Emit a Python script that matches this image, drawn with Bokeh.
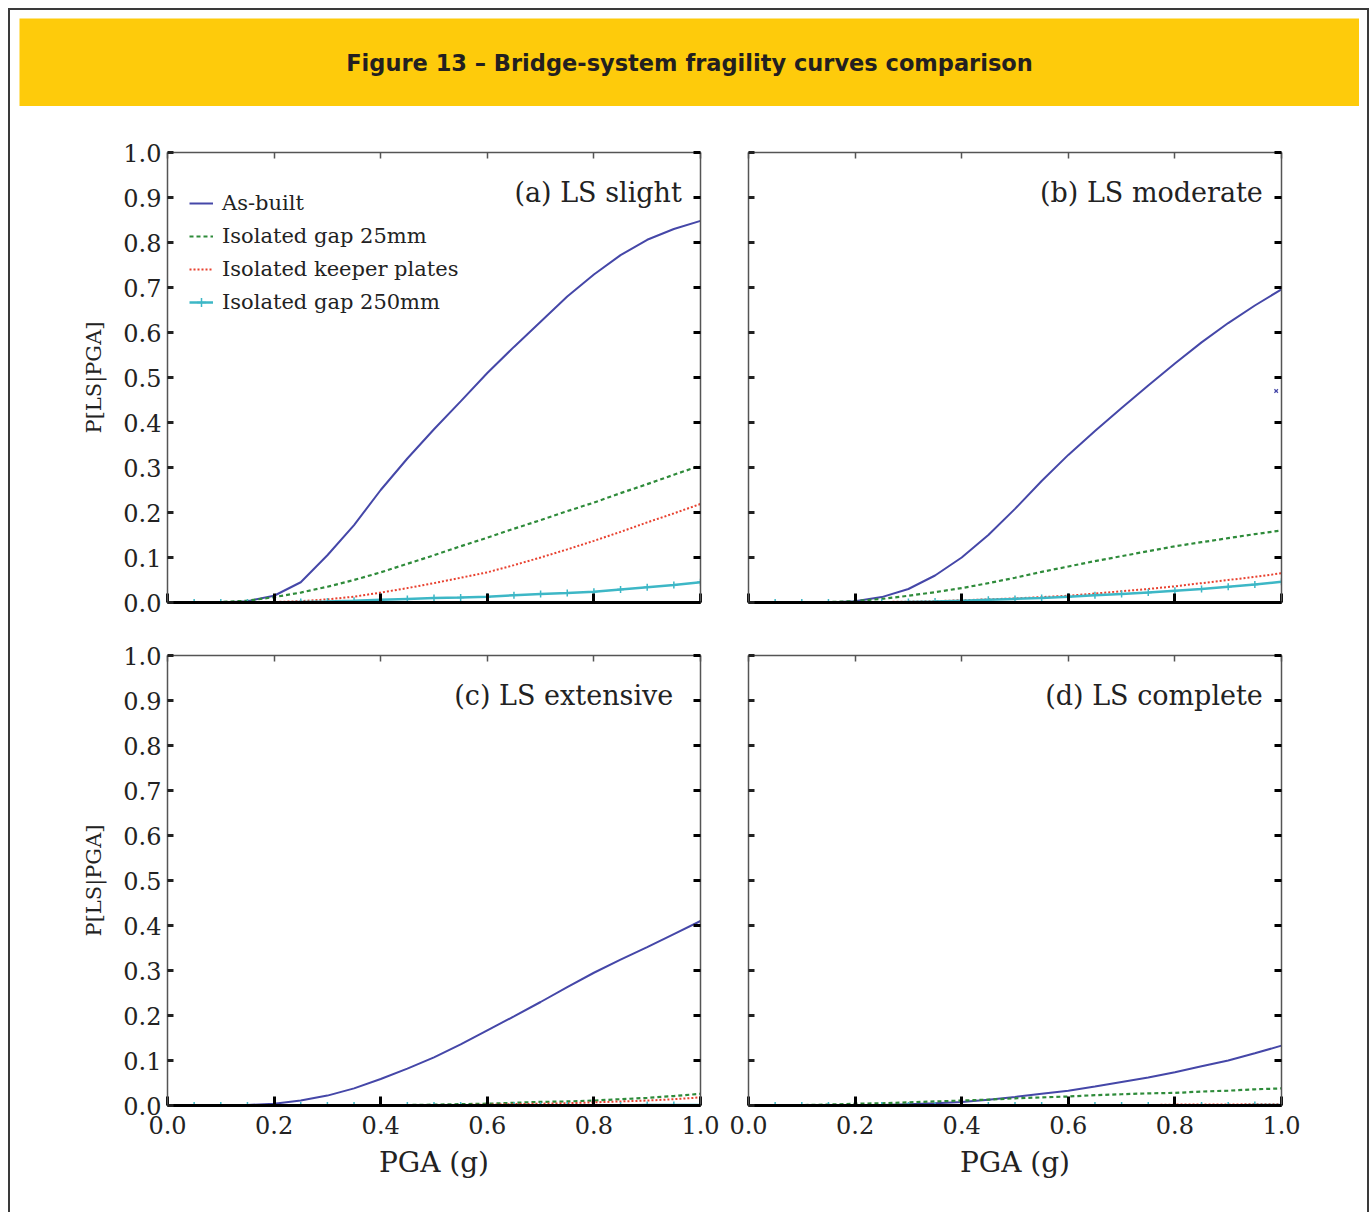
from bokeh.plotting import figure
from bokeh.models import (Range1d, LinearAxis, FixedTicker, PrintfTickFormatter,
                          CustomJSTickFormatter, Label, Legend, LegendItem, Grid)
from bokeh.layouts import column, row
from bokeh.embed import file_html
from bokeh.resources import INLINE

# ---------------- data ----------------
pga = [0.00, 0.05, 0.10, 0.15, 0.20, 0.25, 0.30, 0.35, 0.40, 0.45, 0.50,
       0.55, 0.60, 0.65, 0.70, 0.75, 0.80, 0.85, 0.90, 0.95, 1.00]

x_ticks = [0.0, 0.2, 0.4, 0.6, 0.8, 1.0]
y_ticks = [0.0, 0.1, 0.2, 0.3, 0.4, 0.5, 0.6, 0.7, 0.8, 0.9, 1.0]

series_names = ["As-built", "Isolated gap 25mm", "Isolated keeper plates", "Isolated gap 250mm"]
panel_titles = ["(a) LS slight", "(b) LS moderate", "(c)  LS extensive", "(d) LS complete"]

# (a) LS slight
as_built_a = [0, 0, 0, 0.003, 0.015, 0.045, 0.105, 0.172, 0.250, 0.320, 0.385,
              0.447, 0.510, 0.568, 0.624, 0.680, 0.729, 0.772, 0.806, 0.830, 0.848]
gap25_a = [0, 0, 0.001, 0.004, 0.012, 0.022, 0.035, 0.050, 0.067, 0.086, 0.105,
           0.125, 0.144, 0.164, 0.183, 0.203, 0.222, 0.243, 0.263, 0.284, 0.304]
keeper_a = [0, 0, 0, 0, 0.001, 0.003, 0.007, 0.013, 0.022, 0.032, 0.043,
            0.055, 0.067, 0.083, 0.100, 0.118, 0.137, 0.157, 0.178, 0.198, 0.219]
gap250_a = [0, 0, 0, 0, 0, 0.001, 0.002, 0.004, 0.006, 0.008, 0.010,
            0.011, 0.013, 0.016, 0.019, 0.021, 0.024, 0.029, 0.034, 0.039, 0.045]

# (b) LS moderate
as_built_b = [0, 0, 0, 0, 0.003, 0.012, 0.030, 0.060, 0.100, 0.150, 0.208,
              0.270, 0.328, 0.381, 0.432, 0.482, 0.531, 0.578, 0.621, 0.660, 0.696]
gap25_b = [0, 0, 0, 0.001, 0.003, 0.008, 0.015, 0.023, 0.032, 0.043, 0.055,
           0.068, 0.080, 0.092, 0.103, 0.114, 0.125, 0.134, 0.143, 0.152, 0.160]
keeper_b = [0, 0, 0, 0, 0, 0.001, 0.002, 0.003, 0.005, 0.007, 0.009,
            0.012, 0.015, 0.020, 0.025, 0.030, 0.036, 0.043, 0.050, 0.057, 0.065]
gap250_b = [0, 0, 0, 0, 0, 0, 0.001, 0.002, 0.004, 0.006, 0.008,
            0.010, 0.013, 0.016, 0.019, 0.022, 0.026, 0.030, 0.035, 0.040, 0.046]
stray_pga_b = [0.99]
stray_p_b = [0.47]

# (c) LS extensive
as_built_c = [0, 0, 0, 0.001, 0.004, 0.011, 0.022, 0.038, 0.059, 0.082, 0.107,
              0.136, 0.167, 0.198, 0.230, 0.263, 0.295, 0.324, 0.352, 0.381, 0.410]
gap25_c = [0, 0, 0, 0, 0, 0, 0, 0, 0.001, 0.001, 0.002,
           0.003, 0.004, 0.006, 0.008, 0.009, 0.011, 0.014, 0.017, 0.021, 0.026]
keeper_c = [0, 0, 0, 0, 0, 0, 0, 0, 0, 0, 0.001,
            0.001, 0.002, 0.003, 0.004, 0.005, 0.007, 0.009, 0.011, 0.014, 0.018]
gap250_c = [0, 0, 0, 0, 0, 0, 0, 0, 0, 0, 0,
            0, 0, 0, 0, 0, 0, 0, 0.001, 0.001, 0.001]

# (d) LS complete
as_built_d = [0, 0, 0, 0, 0, 0.001, 0.003, 0.005, 0.008, 0.013, 0.019,
              0.026, 0.033, 0.042, 0.052, 0.062, 0.074, 0.087, 0.100, 0.116, 0.133]
gap25_d = [0, 0, 0.001, 0.002, 0.004, 0.005, 0.007, 0.009, 0.011, 0.013, 0.016,
           0.018, 0.020, 0.023, 0.025, 0.027, 0.028, 0.031, 0.033, 0.036, 0.038]
keeper_d = [0, 0, 0, 0, 0, 0, 0, 0, 0, 0, 0,
            0, 0.001, 0.001, 0.001, 0.001, 0.002, 0.002, 0.002, 0.003, 0.003]
gap250_d = [0, 0, 0, 0, 0, 0, 0, 0, 0, 0, 0,
            0, 0, 0, 0, 0, 0, 0, 0, 0.001, 0.001]

# ---------------- styling ----------------
YELLOW = "#FECB0B"
C_BLUE = "#4547A8"
C_GREEN = "#2E8B3A"
C_RED = "#E8412F"
C_CYAN = "#3DB7C6"
SERIF = "DejaVu Serif"


def empty_fmt():
    return CustomJSTickFormatter(code="return ''")


def drop_grids(p):
    p.center = [r for r in p.center if not isinstance(r, Grid)]


def make_panel(data, title, width, height, mb, x_labels, y_labels, legend=False, stray=None):
    ml, mr, mt, mbot = mb
    p = figure(width=width, height=height, x_range=Range1d(0, 1), y_range=Range1d(0, 1),
               toolbar_location=None, output_backend="svg",
               x_axis_location=None, y_axis_location=None,
               min_border_left=ml, min_border_right=mr, min_border_top=mt, min_border_bottom=mbot,
               outline_line_color=None, background_fill_color="white", border_fill_color="white")
    drop_grids(p)

    # axes on all four sides, ticks pointing inward
    bottom = LinearAxis(ticker=FixedTicker(ticks=x_ticks),
                        formatter=PrintfTickFormatter(format="%.1f") if x_labels else empty_fmt())
    bottom.axis_line_color = "black"
    bottom.axis_line_width = 3
    bottom.major_tick_in = 9
    bottom.major_tick_out = 0
    bottom.major_tick_line_width = 3
    bottom.major_tick_line_color = "black"
    bottom.minor_tick_line_color = None
    bottom.major_label_standoff = 10
    bottom.major_label_text_font = SERIF
    bottom.major_label_text_font_size = "24px"
    bottom.major_label_text_color = "#222222"
    if x_labels:
        bottom.axis_label = "PGA (g)"
        bottom.axis_label_text_font = SERIF
        bottom.axis_label_text_font_size = "28px"
        bottom.axis_label_text_font_style = "normal"
        bottom.axis_label_text_color = "#222222"
        bottom.axis_label_standoff = 9
    p.add_layout(bottom, "below")

    left = LinearAxis(ticker=FixedTicker(ticks=y_ticks),
                      formatter=PrintfTickFormatter(format="%.1f") if y_labels else empty_fmt())
    left.axis_line_color = "#555555"
    left.axis_line_width = 1.5
    left.major_tick_in = 6
    left.major_tick_out = 0
    left.major_tick_line_width = 3
    left.major_tick_line_color = "#222222"
    left.minor_tick_line_color = None
    left.major_label_standoff = 6
    left.major_label_text_font = SERIF
    left.major_label_text_font_size = "24px"
    left.major_label_text_color = "#222222"
    if y_labels:
        left.axis_label = "P[LS|PGA]"
        left.axis_label_text_font = SERIF
        left.axis_label_text_font_size = "21px"
        left.axis_label_text_font_style = "normal"
        left.axis_label_text_color = "#222222"
        left.axis_label_standoff = 14
    p.add_layout(left, "left")

    top = LinearAxis(ticker=FixedTicker(ticks=x_ticks), formatter=empty_fmt())
    top.axis_line_color = "#555555"
    top.axis_line_width = 1.5
    top.major_tick_in = 6
    top.major_tick_out = 0
    top.major_tick_line_width = 1.5
    top.major_tick_line_color = "#555555"
    top.minor_tick_line_color = None
    top.major_label_standoff = 0
    p.add_layout(top, "above")

    right = LinearAxis(ticker=FixedTicker(ticks=y_ticks), formatter=empty_fmt())
    right.axis_line_color = "#555555"
    right.axis_line_width = 1.5
    right.major_tick_in = 7
    right.major_tick_out = 0
    right.major_tick_line_width = 3
    right.major_tick_line_color = "black"
    right.minor_tick_line_color = None
    right.major_label_standoff = 0
    p.add_layout(right, "right")

    ab, g25, kp, g250 = data
    r1 = p.line(pga, ab, line_color=C_BLUE, line_width=2)
    r2 = p.line(pga, g25, line_color=C_GREEN, line_width=2.2, line_dash="4 3")
    r3 = p.line(pga, kp, line_color=C_RED, line_width=2, line_dash="2 2")
    r4 = p.line(pga, g250, line_color=C_CYAN, line_width=2.5)
    r5 = p.scatter(pga, g250, marker="cross", size=7, line_color=C_CYAN, line_width=1.5)

    if stray is not None:
        p.scatter(stray[0], stray[1], marker="x", size=5, line_color=C_BLUE, line_width=1.2)

    if legend:
        lg = Legend(items=[LegendItem(label=series_names[0], renderers=[r1]),
                           LegendItem(label=series_names[1], renderers=[r2]),
                           LegendItem(label=series_names[2], renderers=[r3]),
                           LegendItem(label=series_names[3], renderers=[r4, r5])],
                    location=(22, 288))
        lg.label_text_font = SERIF
        lg.label_text_font_size = "21px"
        lg.label_text_color = "#222222"
        lg.glyph_width = 24
        lg.glyph_height = 22
        lg.label_height = 22
        lg.label_standoff = 9
        lg.spacing = 9
        lg.padding = 0
        lg.margin = 0
        lg.border_line_color = None
        lg.background_fill_alpha = 0
        p.add_layout(lg)

    p.add_layout(Label(x=0.965, y=0.912, text=title, text_align="right", text_baseline="middle",
                       text_font=SERIF, text_font_size="27px", text_color="#222222"))
    return p


pa = make_panel((as_built_a, gap25_a, keeper_a, gap250_a), panel_titles[0],
                705, 522, (148, 24, 46, 26), False, True, legend=True)
pb = make_panel((as_built_b, gap25_b, keeper_b, gap250_b), panel_titles[1],
                635, 522, (24, 78, 46, 26), False, False, stray=(stray_pga_b, stray_p_b))
pc = make_panel((as_built_c, gap25_c, keeper_c, gap250_c), panel_titles[2],
                705, 567, (148, 24, 27, 90), True, True)
pd = make_panel((as_built_d, gap25_d, keeper_d, gap250_d), panel_titles[3],
                635, 567, (24, 78, 27, 90), True, False)

# header bar
header = figure(width=1340, height=88, x_range=Range1d(0, 1), y_range=Range1d(0, 1),
                toolbar_location=None, output_backend="svg",
                x_axis_location=None, y_axis_location=None, min_border=0,
                outline_line_color=None, background_fill_color=YELLOW, border_fill_color=YELLOW)
drop_grids(header)
header.add_layout(Label(x=0.5, y=0.5, text="Figure 13 \u2013 Bridge-system fragility curves comparison",
                        text_align="center", text_baseline="middle", text_font="DejaVu Sans",
                        text_font_style="bold", text_font_size="22.5px", text_color="#231F20"))

layout = column(header, row(pa, pb), row(pc, pd),
                styles={"margin": "8px 0px 0px 8px",
                        "border-left": "2px solid #3a3a3a",
                        "border-top": "2px solid #3a3a3a",
                        "border-right": "2px solid #3a3a3a",
                        "padding": "8px 8px 17px 9px",
                        "background-color": "white"})

open("out.html", "w").write(file_html(layout, INLINE))
